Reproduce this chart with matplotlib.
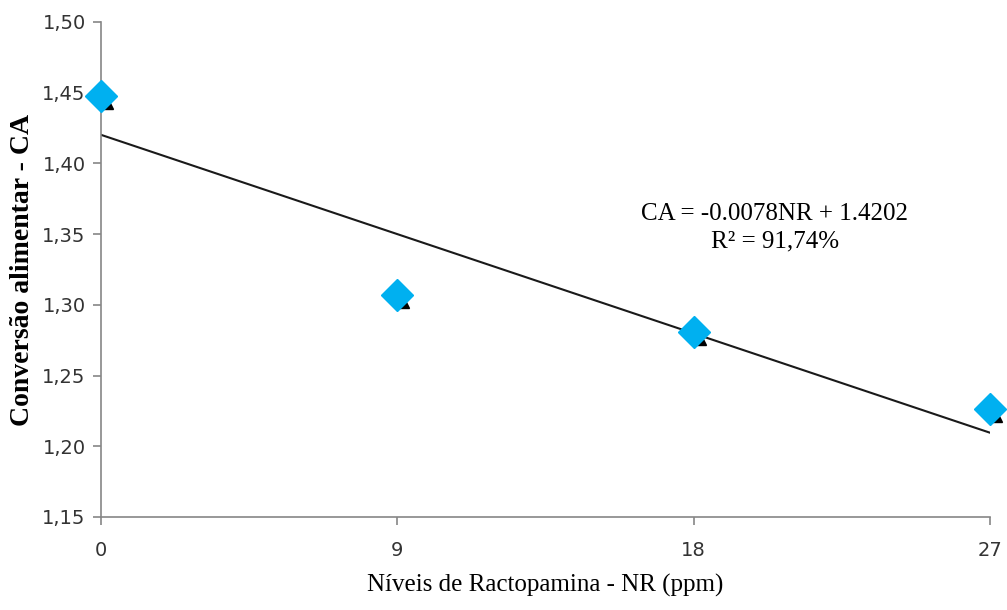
import matplotlib
matplotlib.use('Agg')
import matplotlib.pyplot as plt
import matplotlib.transforms as mtransforms
import numpy as np

# data
nr = [0, 9, 18, 27]
ca = [1.448, 1.307, 1.281, 1.226]
slope = -0.0078
intercept = 1.4202
xticks = [0, 9, 18, 27]
yticks = [1.15, 1.20, 1.25, 1.30, 1.35, 1.40, 1.45, 1.50]

fig = plt.figure(figsize=(10.07, 6.10), dpi=100)
ax = fig.add_axes([0.1003, 0.1525, 0.8827, 0.8115])

fit_x = np.array([nr[0], nr[-1]])
ax.plot(fit_x, slope * fit_x + intercept, color='#1a1a1a', lw=1.5, zorder=2)

# small black triangles peeking out behind the diamonds
off = mtransforms.offset_copy(ax.transData, fig=fig, x=6, y=-7, units='dots')
ax.plot(nr, ca, linestyle='none', marker='^', ms=8, color='black',
        transform=off, clip_on=False, zorder=3)
ax.plot(nr, ca, linestyle='none', marker='D', ms=16.5, color='#00b0f0',
        clip_on=False, zorder=4)

ax.set_xlim(0, 27)
ax.set_ylim(1.15, 1.50)
ax.set_xticks(xticks)
ax.set_yticks(yticks)
ax.set_yticklabels([('%.2f' % v).replace('.', ',') for v in yticks])
ax.set_xticklabels([str(v) for v in xticks])

for s in ['top', 'right']:
    ax.spines[s].set_visible(False)
for s in ['left', 'bottom']:
    ax.spines[s].set_color('#868686')
    ax.spines[s].set_linewidth(1.2)
ax.tick_params(axis='both', colors='#868686', labelcolor='#333333',
               labelsize=14, length=6, width=1.2)
ax.tick_params(axis='x', pad=11)
ax.tick_params(axis='y', pad=5)

ax.set_xlabel('Níveis de Ractopamina - NR (ppm)', family='Liberation Serif',
              fontsize=18, color='black', labelpad=10)
ax.set_ylabel('Conversão alimentar - CA', family='Liberation Serif',
              fontsize=20, fontweight='bold', color='black', labelpad=5)

ax.text(0.758, 0.584, 'CA = -0.0078NR + 1.4202\nR² = 91,74%',
        transform=ax.transAxes, ha='center', va='center',
        family='Liberation Serif', fontsize=18, linespacing=1.3)

fig.savefig('out.png', dpi=100)
